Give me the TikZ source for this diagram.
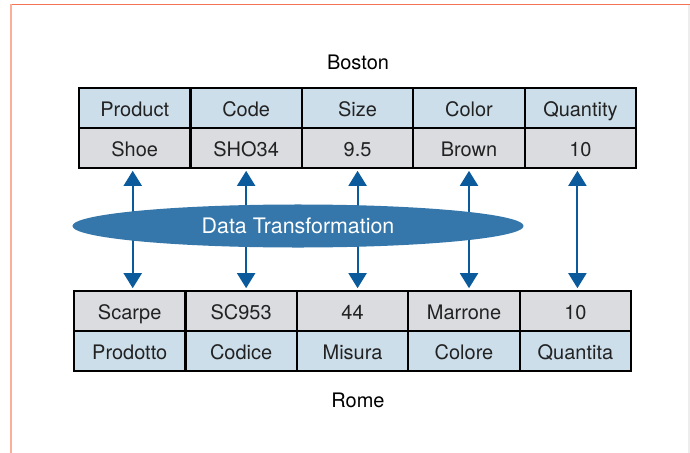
\documentclass[tikz,border=0pt]{standalone}
\usepackage{fontspec}
\setmainfont{TeX Gyre Heros}
\usetikzlibrary{calc,arrows.meta,shapes.geometric}

\definecolor{headerblue}{HTML}{CCDEEA}
\definecolor{recordgray}{HTML}{DADCE0}
\definecolor{linkblue}{HTML}{0B5B9C}
\definecolor{transformblue}{HTML}{3577AB}
\definecolor{celltext}{HTML}{222222}
\definecolor{frametop}{HTML}{F37455}
\definecolor{frameside}{HTML}{FBAF99}
\newcommand{\cellfont}{\fontsize{14.2}{17}\selectfont}

\begin{document}
\begin{tikzpicture}[x=0.025cm,y=-0.025cm,
                    cell/.style={draw,line width=1.6pt,minimum width=2.785cm,minimum height=1cm,
                                 text height=12.4pt,text depth=0pt,
                                 inner sep=0pt,outer sep=0pt,text=celltext,font=\cellfont},
                    header/.style={cell,fill=headerblue},
                    record/.style={cell,fill=recordgray},
                    city/.style={font=\cellfont,text=black},
                    link/.style={draw=linkblue,line width=1.4pt,shorten <=2pt,shorten >=2pt,
                                 {Triangle[width=0.45cm,length=0.375cm]}-{Triangle[width=0.45cm,length=0.375cm]}},
                    transform/.style={ellipse,fill=transformblue,text=white,inner sep=0pt,
                                      font=\fontsize{15.2}{18}\selectfont}]
            \useasboundingbox (0,0) rectangle (690,453);
            \draw[frametop,line width=1.4pt] (10.5,4.5) -- (690,4.5);
            \draw[frameside,line width=1.6pt] (11,4.5) -- (11,453);
            \draw[black!7,line width=0.8pt] (689,5) -- (689,453);

            % Boston table
            \coordinate (boston) at (79,88);
            \node[city] (boston title) at (358,62) {Boston};
            \node[header,anchor=north west] (product) at (boston) {Product};
            \node[header,anchor=west] (code) at (product.east) {Code};
            \node[header,anchor=west] (size) at (code.east) {Size};
            \node[header,anchor=west] (color) at (size.east) {Color};
            \node[header,anchor=west] (quantity) at (color.east) {Quantity};
            \node[record,anchor=north] (shoe) at (product.south) {Shoe};
            \node[record,anchor=north] (sho34) at (code.south) {SHO34};
            \node[record,anchor=north] (size val) at (size.south) {9.5};
            \node[record,anchor=north] (brown) at (color.south) {Brown};
            \node[record,anchor=north] (boston qty) at (quantity.south) {10};

            % Rome table
            \coordinate (rome) at (74,291);
            \node[record,anchor=north west] (scarpe) at (rome) {Scarpe};
            \node[record,anchor=west] (sc953) at (scarpe.east) {SC953};
            \node[record,anchor=west] (misura val) at (sc953.east) {44};
            \node[record,anchor=west] (marrone) at (misura val.east) {Marrone};
            \node[record,anchor=west] (rome qty) at (marrone.east) {10};
            \node[header,anchor=north] (prodotto) at (scarpe.south) {Prodotto};
            \node[header,anchor=north] (codice) at (sc953.south) {Codice};
            \node[header,anchor=north] (misura) at (misura val.south) {Misura};
            \node[header,anchor=north] (colore) at (marrone.south) {Colore};
            \node[header,anchor=north] (quantita) at (rome qty.south) {Quantita};
            \node[city] (rome title) at (358,400) {Rome};

            % mappings
            \draw[link] ($ (shoe.south) + (-2,0) $) -- ($ (shoe.south |- scarpe.north) + (-2,0) $);
            \draw[link] (sho34.south) -- (sho34.south |- sc953.north);
            \draw[link] (size val.south) -- (size val.south |- misura val.north);
            \draw[link] (brown.south) -- (brown.south |- marrone.north);
            \draw[link] ($ (boston qty.south) + (-3,0) $) -- ($ (boston qty.south |- rome qty.north) + (-3,0) $);
            \node[transform,minimum width=11.275cm,minimum height=1.075cm] (transformation) at (298,226) {Data Transformation};

        \end{tikzpicture}
\end{document}
